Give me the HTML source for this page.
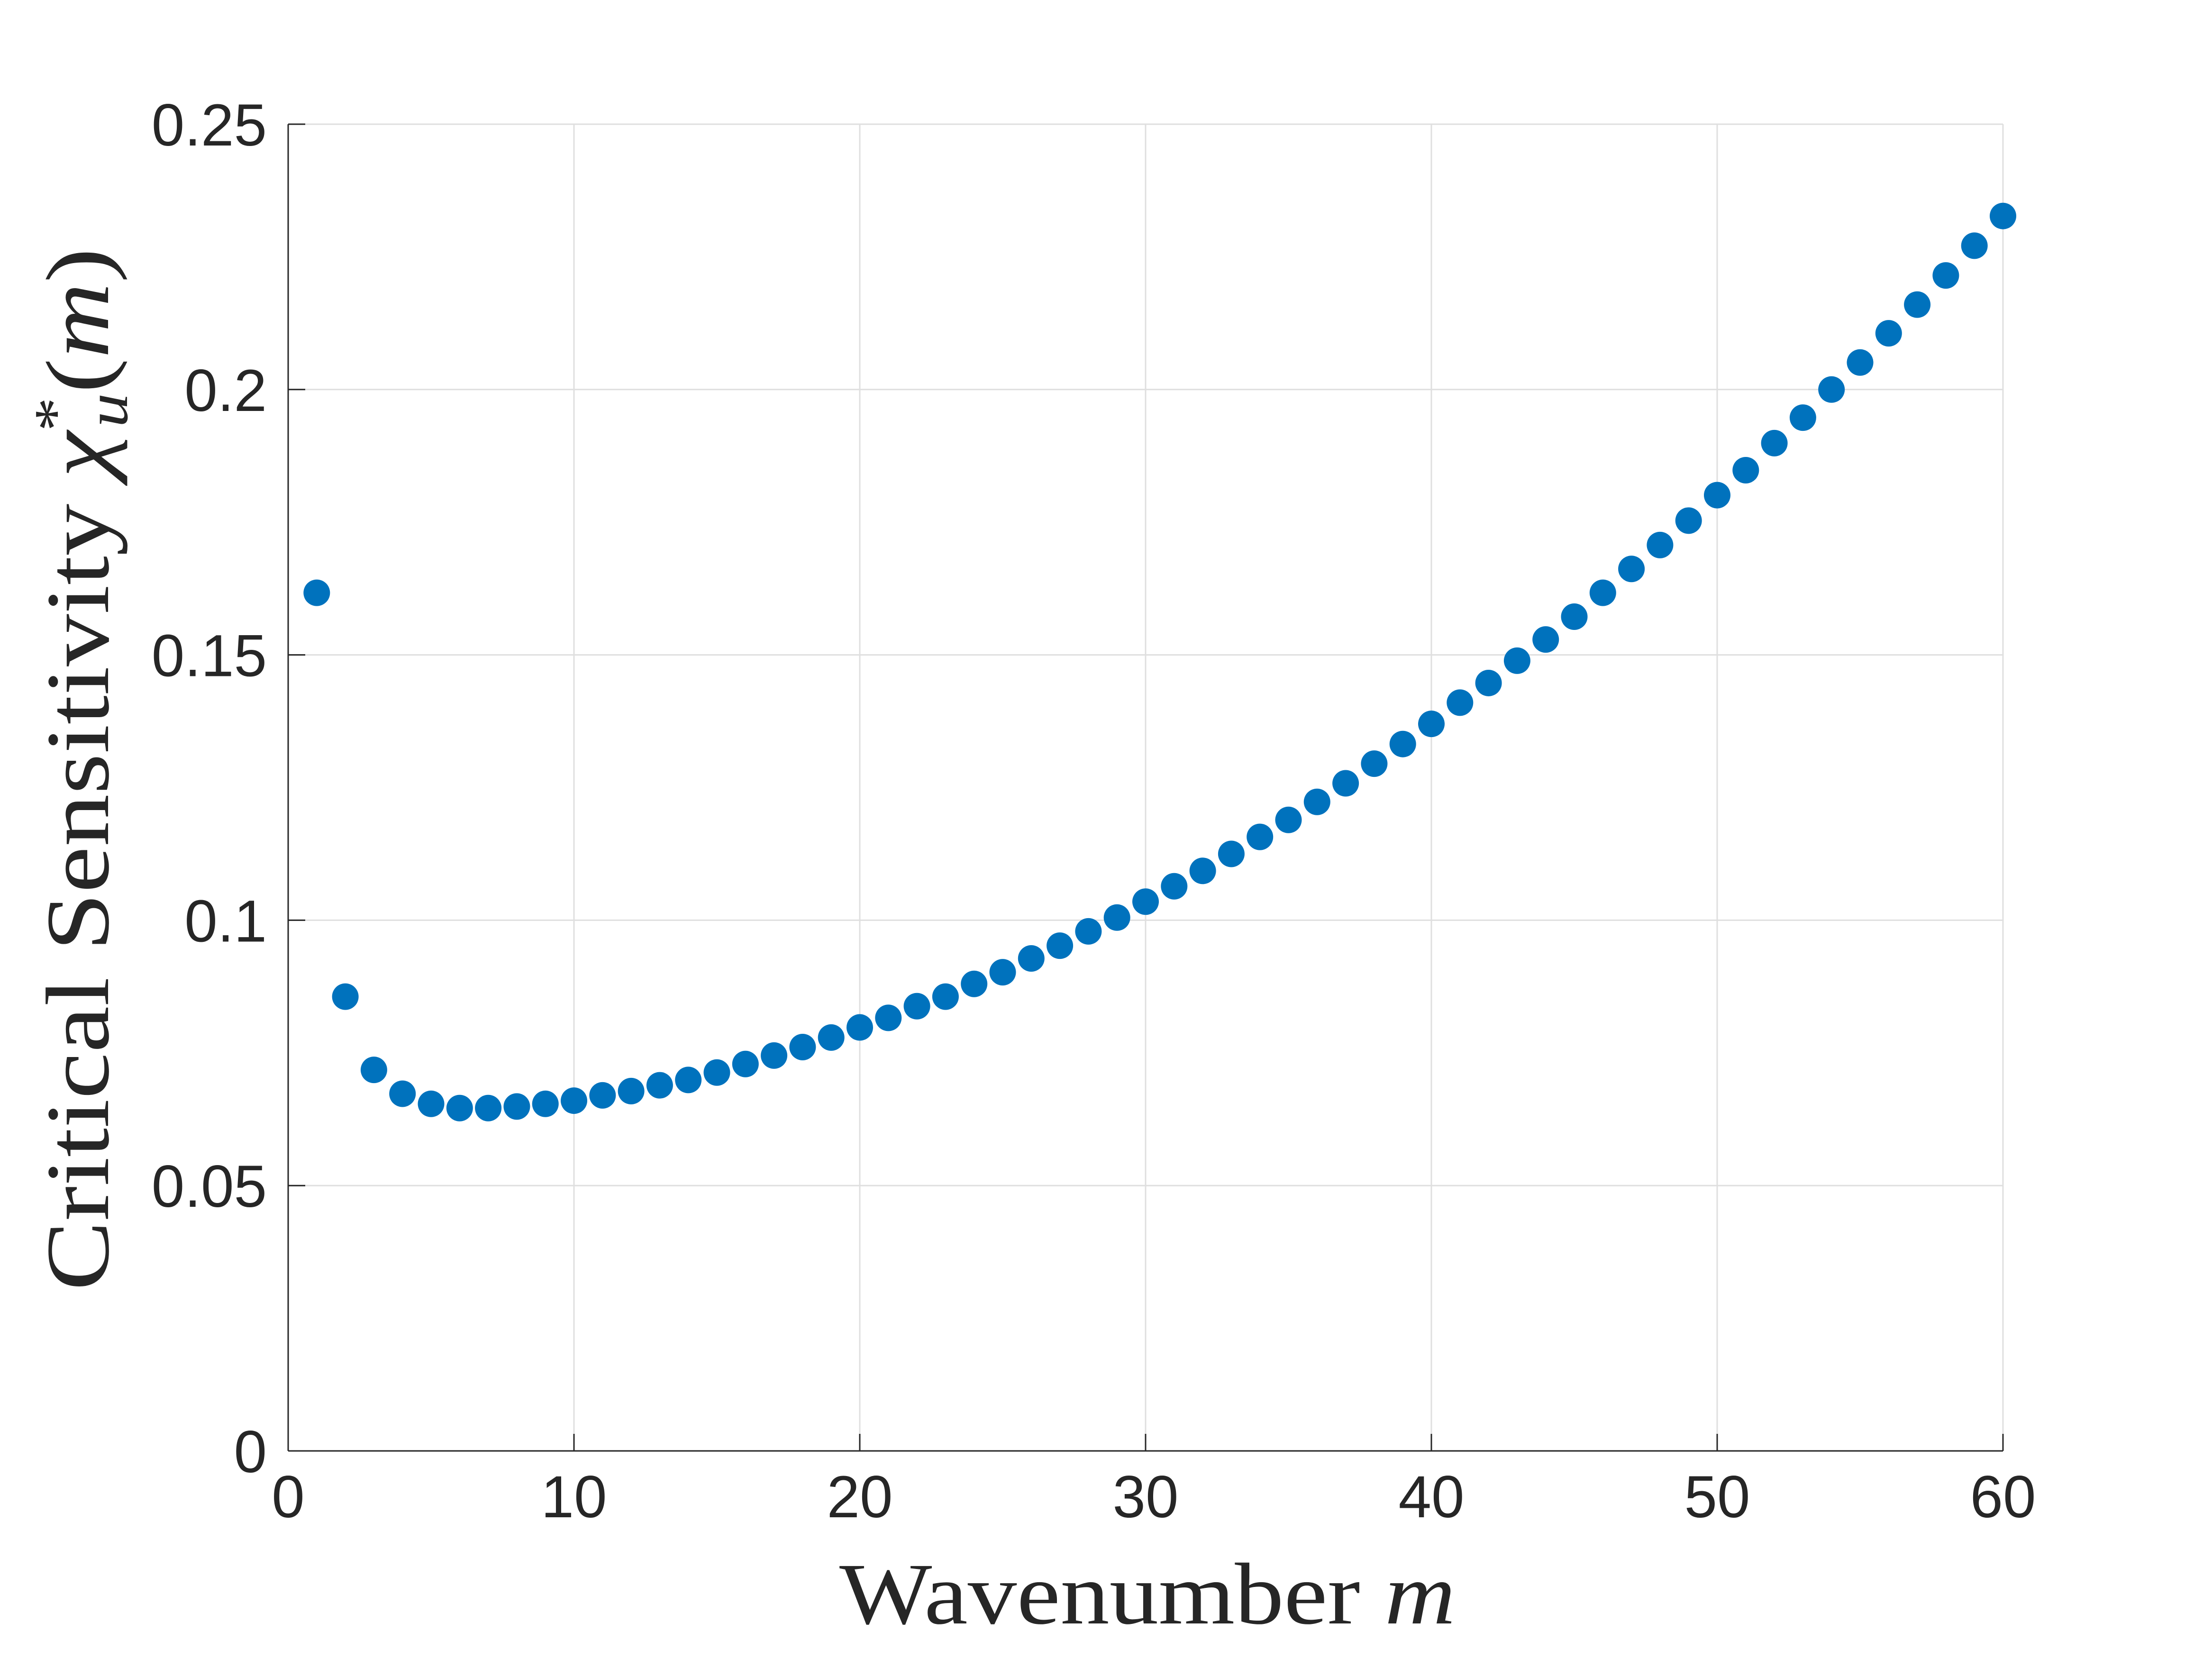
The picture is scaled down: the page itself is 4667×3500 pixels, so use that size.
<!DOCTYPE html>
<html><head><meta charset="utf-8"><style>
html,body{margin:0;padding:0;background:#fff;}
svg{display:block;}
</style></head><body>
<svg id="chart" width="4667" height="3500" viewBox="0 0 4667 3500" xmlns="http://www.w3.org/2000/svg">
<rect width="4667" height="3500" fill="#fff"/>
<g id="grid"></g>
<g id="axes"></g>
<g id="points"></g>
<text x="2421" y="3425" text-anchor="middle" textLength="1300" lengthAdjust="spacingAndGlyphs" font-family="Liberation Serif, serif" font-size="185" fill="#262626">Wavenumber <tspan font-style="italic">m</tspan></text>
<text transform="translate(228,1623) rotate(-90)" text-anchor="middle" textLength="2200" lengthAdjust="spacingAndGlyphs" font-family="Liberation Serif, serif" font-size="190" fill="#262626">Critical Sensitivity <tspan font-style="italic">χ</tspan><tspan font-size="125" dy="-70">*</tspan><tspan font-size="125" font-style="italic" dx="-55" dy="110">u</tspan><tspan dy="-40">(</tspan><tspan font-style="italic">m</tspan>)</text>
</svg>
<script>
const xTicks = [0,10,20,30,40,50,60];
const yTicks = [0,0.05,0.1,0.15,0.2,0.25];
const yTickLabels = ["0","0.05","0.1","0.15","0.2","0.25"];
const wavenumbers = [];
for (let i = 1; i <= 60; i++) wavenumbers.push(i);
const sensitivity = [0.1617,0.0856,0.0718,0.0673,0.0654,0.0646,0.0646,0.0649,0.0654,0.0660,
0.0670,0.0678,0.0689,0.0699,0.0713,0.0729,0.0745,0.0761,0.0779,0.0798,
0.0816,0.0838,0.0856,0.0880,0.0902,0.0928,0.0952,0.0979,0.1005,0.1035,
0.1064,0.1093,0.1125,0.1157,0.1189,0.1223,0.1258,0.1295,0.1332,0.1370,
0.1410,0.1447,0.1489,0.1529,0.1572,0.1617,0.1662,0.1707,0.1753,0.1801,
0.1848,0.1899,0.1947,0.2000,0.2051,0.2106,0.2160,0.2215,0.2271,0.2327];

const L=608,R=4226,T=262,B=3061;
const xs=v=>L+(v-0)/(60-0)*(R-L);
const ys=v=>B-(v-0)/(0.25-0)*(B-T);
const NS="http://www.w3.org/2000/svg";
function mk(tag,attrs,parent){const e=document.createElementNS(NS,tag);for(const k in attrs)e.setAttribute(k,attrs[k]);parent.appendChild(e);return e;}
const grid=document.getElementById('grid'),axes=document.getElementById('axes'),pts=document.getElementById('points');
xTicks.forEach(t=>{
  const g=mk('line',{x1:xs(t),x2:xs(t),y1:T,y2:B,stroke:'#dfdfdf','stroke-width':3},grid);
  
  
  const tk=mk('line',{x1:xs(t),x2:xs(t),y1:B,y2:B-36,stroke:'#262626','stroke-width':3},axes);
  
  
  const lb=mk('text',{x:xs(t),y:B+140,'text-anchor':'middle','font-family':'Liberation Sans, sans-serif','font-size':125,fill:'#262626'},axes);
  lb.textContent=t;
  
  
});
yTicks.forEach((t,i)=>{
  const g=mk('line',{x1:L,x2:R,y1:ys(t),y2:ys(t),stroke:'#dfdfdf','stroke-width':3},grid);
  
  
  const tk=mk('line',{x1:L,x2:L+36,y1:ys(t),y2:ys(t),stroke:'#262626','stroke-width':3},axes);
  
  
  const lb=mk('text',{x:L-45,y:ys(t)+45,'text-anchor':'end','font-family':'Liberation Sans, sans-serif','font-size':125,fill:'#262626'},axes);
  lb.textContent=yTickLabels[i];
  
  
});
const xa=mk('line',{x1:L,x2:R,y1:B,y2:B,stroke:'#262626','stroke-width':3},axes);


const ya=mk('line',{x1:L,x2:L,y1:T,y2:B,stroke:'#262626','stroke-width':3},axes);


wavenumbers.forEach((m,i)=>{
  const c=mk('circle',{cx:xs(m),cy:ys(sensitivity[i]),r:28,fill:'#0072BD'},pts);
  
  
});
</script>
</body></html>
